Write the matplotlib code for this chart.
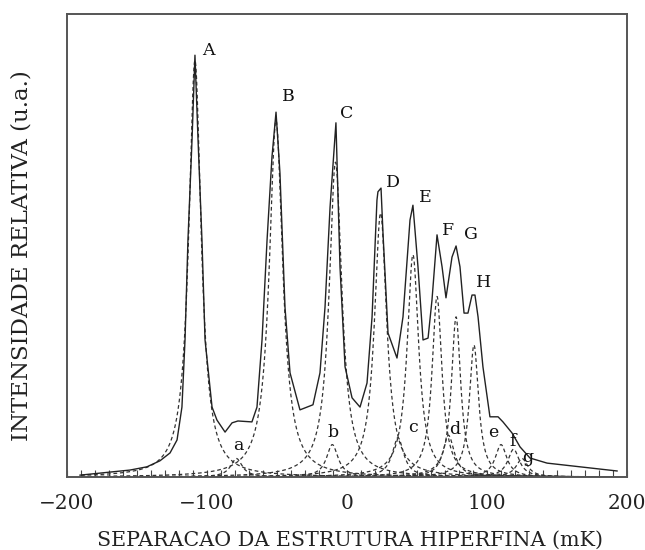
import numpy as np
import matplotlib
matplotlib.use("Agg")
import matplotlib.pyplot as plt
from matplotlib.ticker import MultipleLocator

spec_x = [-190.7, -155.0, -142.9, -133.6, -126.4, -121.4, -117.9, -115.7, -113.6, -110.7,
          -108.6, -106.4, -103.6, -101.4, -96.4, -92.9, -87.1, -82.1, -77.9, -67.9,
          -64.3, -60.7, -57.1, -53.6, -50.7, -47.9, -44.3, -40.7, -33.6, -24.3,
          -19.3, -15.7, -12.1, -7.9, -5.0, -1.4, 3.6, 9.3, 14.3, 17.9,
          21.4, 22.1, 24.3, 25.7, 29.3, 35.7, 40.0, 45.0, 47.1, 50.7,
          54.3, 57.9, 60.7, 64.3, 67.9, 70.7, 75.0, 77.9, 80.7, 83.6,
          86.4, 89.3, 91.4, 93.6, 97.1, 102.1, 107.9, 111.4, 117.9, 123.6,
          130.7, 142.9, 166.4, 192.9]
spec_y = [0.4, 1.5, 2.2, 3.5, 5.2, 8.0, 15.1, 29.6, 51.2, 72.8,
          91.1, 72.8, 51.2, 29.6, 15.1, 12.3, 9.7, 11.7, 12.1, 11.9,
          15.1, 29.6, 51.2, 69.1, 78.8, 65.7, 36.7, 22.5, 14.5, 15.6,
          22.5, 36.7, 58.3, 76.5, 45.4, 23.8, 17.1, 15.1, 20.3, 34.6,
          59.8, 61.6, 62.4, 52.7, 31.1, 25.7, 34.6, 55.5, 58.7, 45.4,
          29.6, 30.0, 38.2, 52.3, 45.4, 38.7, 47.5, 49.9, 45.4, 35.4,
          35.4, 39.3, 39.3, 34.6, 23.8, 13.0, 13.0, 11.9, 9.5, 6.5,
          4.1, 3.0, 2.2, 1.3]

# ---- fitted components (dashed lines): centre (mK), height, half width (mK) ----
comp_names   = ["A", "B", "C", "D", "E", "F", "G", "H",
                "a", "b", "c", "d", "e", "f", "g"]
comp_centers = [-108.6, -50.7, -8.2, 24.0, 47.1, 64.3, 77.9, 90.7,
                -79.0, -10.5, 36.4, 72.5, 110.0, 119.0, 125.0]
comp_heights = [90.0, 77.0, 68.0, 57.0, 48.0, 39.0, 34.6, 28.5,
                4.0, 7.0, 8.5, 9.0, 7.0, 6.0, 4.0]
comp_widths  = [5.3, 5.8, 5.5, 5.3, 5.0, 4.3, 4.0, 4.0,
                5.0, 5.0, 5.0, 5.0, 5.0, 5.0, 5.0]

# ---- peak labels ----
label_text = ["A", "B", "C", "D", "E", "F", "G", "H",
              "a", "b", "c", "d", "e", "f", "g"]
label_x = [-99.3, -42.1, 0.0, 32.9, 55.7, 72.1, 88.6, 97.9,
           -77.9, -10.0, 47.1, 77.1, 104.3, 118.6, 129.3]
label_y = [92.2, 82.1, 78.6, 63.7, 60.3, 53.3, 52.3, 42.1,
           6.9, 9.7, 10.6, 10.2, 9.7, 7.6, 4.3]

xticks = [-200, -100, 0, 100, 200]
xlabel_text = "SEPARACAO DA ESTRUTURA HIPERFINA (mK)"
ylabel_text = "INTENSIDADE RELATIVA (u.a.)"

plt.rcParams['font.family'] = ['DejaVu Serif']

W, H = 645, 550
fig = plt.figure(figsize=(W / 100, H / 100), dpi=100)
ax = fig.add_axes([67 / W, 73 / H, 560 / W, 463 / H])

xg = np.linspace(-190, 190, 1521)
for c, h, w in zip(comp_centers, comp_heights, comp_widths):
    prof = h / (1.0 + ((xg - c) / w) ** 2)
    ax.plot(xg, prof, color='#333333', lw=0.9, ls=(0, (3, 2.2)))

ax.plot(spec_x, spec_y, color='#222222', lw=1.0)

for t, x, y in zip(label_text, label_x, label_y):
    ax.text(x, y, t, fontsize=12.5, ha='center', va='center', color='#111111')

ax.set_xlim(-200, 200)
ax.set_ylim(0, 100)
ax.set_xticks(xticks)
ax.set_xticklabels([str(v).replace('-', '\u2212') for v in xticks], fontsize=14.5,
                   color='#222222')
ax.xaxis.set_minor_locator(MultipleLocator(10))
ax.tick_params(axis='x', which='both', direction='in', length=5, width=0.8,
               color='#444444', pad=12, top=False)
ax.tick_params(axis='y', left=False, labelleft=False)
for s in ax.spines.values():
    s.set_color('#555555')
    s.set_linewidth(1.4)

fig.text(350 / W, 1 - 540 / H, xlabel_text, fontsize=14.9, ha='center', va='center',
         color='#222222')
fig.text(22 / W, 1 - 256 / H, ylabel_text, fontsize=16.5, rotation=90,
         ha='center', va='center', color='#222222')

fig.savefig("out.png", dpi=100)
